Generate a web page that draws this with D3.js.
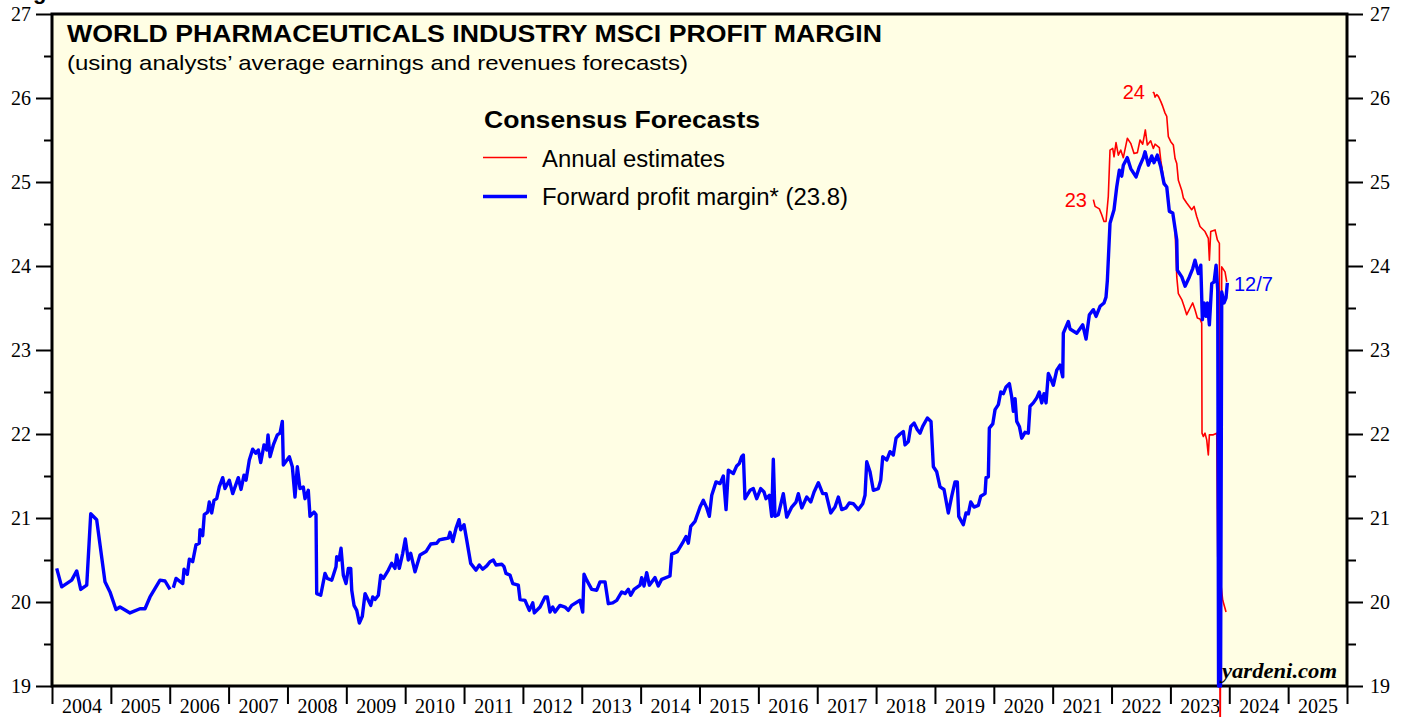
<!DOCTYPE html>
<html><head><meta charset="utf-8">
<script src="https://cdn.jsdelivr.net/npm/d3@7"></script>
<style>body{margin:0;background:#fff}svg{display:block}</style>
</head><body>
<script>
// ---------- DATA ----------
const yTicks = [19, 20, 21, 22, 23, 24, 25, 26, 27];
const yMinorTicks = [19.5, 20.5, 21.5, 22.5, 23.5, 24.5, 25.5, 26.5];
const yearBounds = [2004,2005,2006,2007,2008,2009,2010,2011,2012,2013,2014,2015,2016,2017,2018,2019,2020,2021,2022,2023,2024,2025,2026];
const yearLabels = ["2004","2005","2006","2007","2008","2009","2010","2011","2012","2013","2014","2015","2016","2017","2018","2019","2020","2021","2022","2023","2024","2025"];

// Forward profit margin (blue); null marks a gap in the series
const fwdDates = [2004.080,2004.165,2004.335,2004.420,2004.488,2004.590,2004.658,2004.759,2004.900,2004.985,2005.087,2005.155,2005.325,2005.495,2005.580,2005.665,2005.835,2005.920,2006.005,2006.033,
2006.061,2006.107,2006.221,2006.243,2006.299,2006.333,2006.390,2006.446,2006.502,2006.514,2006.560,2006.587,2006.645,2006.672,2006.713,2006.752,2006.798,2006.842,2006.900,2006.939,
2007.012,2007.070,2007.165,2007.211,2007.262,2007.296,2007.352,2007.410,2007.461,2007.505,2007.546,2007.602,2007.648,2007.670,2007.704,2007.760,2007.828,2007.874,2007.913,2007.930,
2008.032,2008.083,2008.128,2008.168,2008.213,2008.269,2008.298,2008.354,2008.383,2008.451,2008.485,2008.497,2008.565,2008.638,2008.677,2008.752,2008.825,2008.837,2008.876,2008.910,2008.949,2008.995,
2009.034,2009.075,2009.092,2009.131,2009.177,2009.221,2009.272,2009.318,2009.374,2009.415,2009.449,2009.488,2009.544,2009.584,2009.629,2009.714,2009.771,2009.827,2009.856,2009.900,2009.958,
2010.002,2010.053,2010.094,2010.167,2010.252,2010.354,2010.434,2010.536,2010.580,2010.648,2010.733,2010.762,2010.808,2010.864,2010.915,2010.943,
2011.000,2011.045,2011.113,2011.203,2011.259,2011.317,2011.385,2011.441,2011.497,2011.543,2011.640,2011.679,2011.713,2011.781,2011.827,2011.922,2011.951,
2012.036,2012.109,2012.167,2012.194,2012.291,2012.376,2012.415,2012.461,2012.506,2012.546,2012.630,2012.715,2012.771,2012.829,2012.970,
2013.016,2013.038,2013.084,2013.169,2013.254,2013.310,2013.395,2013.451,2013.526,2013.594,2013.679,2013.735,2013.791,2013.832,2013.888,2013.990,
2014.018,2014.058,2014.103,2014.148,2014.244,2014.300,2014.358,2014.499,2014.528,2014.623,2014.725,2014.771,2014.810,2014.851,2014.924,
2015.009,2015.065,2015.123,2015.167,2015.208,2015.281,2015.349,2015.405,2015.451,2015.490,2015.575,2015.632,2015.677,2015.717,2015.745,2015.773,2015.858,2015.914,2015.972,
2016.040,2016.096,2016.130,2016.186,2016.227,2016.254,2016.283,2016.339,2016.424,2016.482,2016.567,2016.640,2016.679,2016.737,2016.822,2016.890,2016.946,
2017.019,2017.093,2017.150,2017.229,2017.302,2017.359,2017.416,2017.489,2017.545,2017.613,2017.698,2017.773,2017.812,2017.841,2017.897,2017.953,
2018.038,2018.079,2018.113,2018.181,2018.237,2018.293,2018.339,2018.407,2018.463,2018.492,2018.548,2018.589,2018.645,2018.701,2018.747,2018.792,2018.871,2018.933,2018.973,
2019.030,2019.086,2019.154,2019.227,2019.285,2019.341,2019.380,2019.404,2019.482,2019.528,2019.567,2019.608,2019.664,2019.737,2019.778,2019.851,2019.868,2019.907,2019.924,2019.982,
2020.021,2020.077,2020.118,2020.162,2020.208,2020.264,2020.304,2020.332,2020.361,2020.389,2020.434,2020.474,2020.530,2020.586,2020.615,2020.671,2020.729,2020.773,2020.814,2020.853,2020.887,2020.926,2020.967,
2021.011,2021.069,2021.125,2021.171,2021.181,2021.266,2021.295,2021.409,2021.511,2021.567,2021.623,2021.691,2021.737,2021.805,2021.872,2021.906,2021.929,2021.974,
2022.042,2022.088,2022.132,2022.173,2022.200,2022.268,2022.326,2022.416,2022.472,2022.540,2022.569,2022.625,2022.683,2022.722,2022.778,2022.836,2022.892,2022.938,2022.982,
2023.040,2023.108,2023.118,2023.193,2023.249,2023.322,2023.379,2023.418,2023.475,2023.516,2023.543,2023.572,2023.606,2023.628,2023.662,2023.702,2023.742,2023.776,2023.804,2023.818,2023.852,2023.872,2023.911,2023.945,2023.967];
const fwdValues = [20.40,20.18,20.26,20.37,20.15,20.20,21.05,20.98,20.24,20.12,19.91,19.94,19.87,19.92,19.92,20.06,20.26,20.25,20.15,null,
20.17,20.28,20.22,20.39,20.33,20.51,20.48,20.68,20.70,20.86,20.79,21.04,21.07,21.19,21.06,21.21,21.23,21.37,21.48,21.35,
21.45,21.29,21.48,21.34,21.51,21.45,21.69,21.82,21.77,21.81,21.66,21.87,21.81,21.99,21.73,21.87,21.99,22.01,22.15,21.63,
21.73,21.61,21.25,21.61,21.35,21.37,21.23,21.33,21.02,21.07,21.04,20.10,20.08,20.34,20.28,20.26,20.42,20.54,20.50,20.64,20.32,20.22,
20.40,20.40,20.14,19.96,19.90,19.75,19.83,20.10,20.02,19.96,20.06,20.03,20.08,20.32,20.28,20.38,20.46,20.40,20.56,20.40,20.58,
20.75,20.50,20.58,20.36,20.56,20.60,20.69,20.70,20.74,20.75,20.76,20.83,20.72,20.88,20.98,20.86,
20.92,20.74,20.46,20.38,20.44,20.39,20.43,20.48,20.50,20.44,20.45,20.42,20.34,20.32,20.22,20.20,20.03,
20.02,19.90,19.99,19.87,19.94,20.06,20.06,19.88,19.94,19.88,19.96,19.94,19.90,19.96,20.02,
19.88,20.33,20.26,20.15,20.14,20.24,20.24,19.98,19.99,20.02,20.12,20.10,20.15,20.08,20.15,20.20,
20.29,20.19,20.35,20.20,20.29,20.19,20.27,20.31,20.57,20.60,20.72,20.78,20.70,20.90,20.96,
21.13,21.21,21.12,21.02,21.27,21.43,21.41,21.50,21.10,21.57,21.53,21.62,21.65,21.73,21.75,21.23,21.33,21.35,21.23,
21.35,21.31,21.23,21.27,21.02,21.70,21.02,21.04,21.29,21.01,21.13,21.19,21.29,21.12,21.25,21.19,21.31,
21.42,21.29,21.29,21.06,21.13,21.25,21.10,21.12,21.18,21.17,21.10,21.17,21.27,21.67,21.55,21.33,
21.35,21.45,21.73,21.69,21.79,21.75,21.95,22.00,22.03,21.87,21.91,22.09,22.13,22.05,22.01,22.09,22.19,22.15,21.61,
21.55,21.37,21.34,21.06,21.26,21.43,21.43,21.02,20.92,21.06,21.05,21.19,21.13,21.15,21.26,21.29,21.48,21.49,22.07,22.12,
22.29,22.35,22.50,22.48,22.56,22.60,22.44,22.27,22.42,22.15,22.09,21.95,22.02,22.01,22.33,22.37,22.43,22.50,22.37,22.48,22.37,22.72,22.66,
22.58,22.76,22.82,22.68,23.20,23.34,23.25,23.20,23.30,23.13,23.42,23.48,23.40,23.52,23.56,23.63,23.83,24.51,
24.67,24.94,25.14,25.07,25.20,25.29,25.16,25.06,25.18,25.29,25.36,25.20,25.31,25.23,25.32,25.18,24.98,24.94,24.65,
24.63,24.31,23.95,23.87,23.76,23.87,23.97,24.07,23.91,24.01,23.36,23.56,23.40,23.56,23.30,23.79,23.81,24.01,23.71,19.00,19.00,23.69,23.56,23.62,23.80];

// Annual estimate for 2023 (red)
const est2023Dates = [2021.691,2021.720,2021.793,2021.833,2021.872,2021.906,2021.945,2021.974,2022.020,2022.042,2022.076,2022.115,2022.156,2022.200,2022.268,2022.326,2022.382,2022.439,2022.484,2022.530,2022.574,2022.608,2022.665,2022.710,2022.739,2022.812,2022.836,2022.892,2022.938,2022.982,
2023.040,2023.079,2023.108,2023.135,2023.193,2023.232,2023.277,2023.334,2023.379,2023.418,2023.458,2023.503,2023.532,2023.537,2023.559,2023.588,2023.617,2023.644,2023.662,2023.729,2023.787,2023.804,2023.889,2023.945];
const est2023Values = [24.79,24.71,24.68,24.61,24.53,24.53,24.83,25.38,25.40,25.30,25.47,25.32,25.38,25.29,25.52,25.46,25.34,25.35,25.50,25.45,25.62,25.44,25.49,25.40,25.45,25.41,25.26,25.00,24.94,24.67,
24.63,24.43,23.87,23.67,23.60,23.52,23.42,23.50,23.56,23.48,23.38,23.37,23.32,22.01,21.97,22.01,21.93,21.75,21.99,21.99,22.01,20.54,20.02,19.88];

// Annual estimate for 2024 (red)
const est2024Dates = [2022.700,2022.722,2022.739,2022.768,2022.796,2022.836,2022.870,2022.909,2022.938,2022.965,2023.006,2023.050,2023.079,2023.108,2023.135,2023.193,2023.220,2023.277,2023.362,2023.402,2023.447,2023.503,2023.588,2023.644,2023.662,2023.685,2023.759,2023.798,2023.832,2023.844,2023.872,2023.928,2023.957];
const est2024Values = [26.07,26.06,26.01,26.04,26.02,25.96,25.90,25.82,25.78,25.54,25.48,25.44,25.28,25.22,25.02,24.90,24.81,24.75,24.67,24.71,24.59,24.47,24.41,24.33,24.07,24.41,24.43,24.31,24.27,17.80,23.99,23.93,23.81];

// ---------- CHART ----------
const W = 1407, H = 717;
const svg = d3.select("body").append("svg").attr("width", W).attr("height", H);
const x = d3.scaleLinear().domain([2004, 2026]).range([52, 1347]);
const y = d3.scaleLinear().domain([19, 27]).range([686, 14]);
const serif = "'Liberation Serif','Times New Roman',serif";
const sans = "'Liberation Sans',Arial,Helvetica,sans-serif";

// heading above the chart, cut off by the top edge as in the reference
svg.append("text").attr("x", 13.5).attr("y", -1.3)
  .attr("font-family", sans).attr("font-weight", "bold").attr("font-size", 22).text("Figure");

// plot background
svg.append("rect").attr("x", x(2004)).attr("y", y(27))
  .attr("width", x(2026) - x(2004)).attr("height", y(19) - y(27))
  .attr("fill", "#fffee4");

function styleAxis(g, size) {
  g.select(".domain").remove();
  g.selectAll(".tick line").attr("stroke", "#000").attr("stroke-width", 2);
  g.selectAll("text").attr("font-family", serif).attr("font-size", size).attr("fill", "#000");
}

// left axis
svg.append("g").attr("transform", `translate(${x(2004)},0)`)
  .call(d3.axisLeft(y).tickValues(yTicks).tickSize(16).tickPadding(5).tickFormat(d3.format("d")))
  .call(g => styleAxis(g, 20));
svg.append("g").attr("transform", `translate(${x(2004)},0)`)
  .call(d3.axisLeft(y).tickValues(yMinorTicks).tickSize(8).tickFormat(""))
  .call(g => styleAxis(g, 20));
// right axis
svg.append("g").attr("transform", `translate(${x(2026)},0)`)
  .call(d3.axisRight(y).tickValues(yTicks).tickSize(16).tickPadding(7).tickFormat(d3.format("d")))
  .call(g => styleAxis(g, 20));
svg.append("g").attr("transform", `translate(${x(2026)},0)`)
  .call(d3.axisRight(y).tickValues(yMinorTicks).tickSize(9).tickFormat(""))
  .call(g => styleAxis(g, 20));
// bottom axis: year boundaries + centred labels
svg.append("g").attr("transform", `translate(0,${y(19)})`)
  .call(d3.axisBottom(x).tickValues(yearBounds).tickSize(18).tickFormat(""))
  .call(g => styleAxis(g, 20));
svg.append("g").attr("transform", `translate(0,${y(19)})`)
  .call(d3.axisBottom(x).tickValues(yearBounds.slice(0, -1).map(d => d + 0.5)).tickSize(0).tickPadding(13)
    .tickFormat((d, i) => yearLabels[i]))
  .call(g => styleAxis(g, 20));

// frame
svg.append("rect").attr("x", x(2004)).attr("y", y(27))
  .attr("width", x(2026) - x(2004)).attr("height", y(19) - y(27))
  .attr("fill", "none").attr("stroke", "#000").attr("stroke-width", 3);

// lines
function series(dates, values) { return dates.map((d, i) => [d, values[i]]); }
const line = d3.line().defined(d => d[1] !== null).x(d => x(d[0])).y(d => y(d[1]));

svg.append("path").datum(series(est2023Dates, est2023Values)).attr("d", line)
  .attr("fill", "none").attr("stroke", "#ff0000").attr("stroke-width", 1.6).attr("stroke-linejoin", "round");
svg.append("path").datum(series(est2024Dates, est2024Values)).attr("d", line)
  .attr("fill", "none").attr("stroke", "#ff0000").attr("stroke-width", 1.6).attr("stroke-linejoin", "round");
svg.append("path").datum(series(fwdDates, fwdValues)).attr("d", line)
  .attr("fill", "none").attr("stroke", "#0000ff").attr("stroke-width", 3.4).attr("stroke-linejoin", "round");

// titles
svg.append("text").attr("x", 67).attr("y", 42).attr("font-family", sans).attr("font-weight", "bold")
  .attr("font-size", 24).attr("textLength", 815).attr("lengthAdjust", "spacingAndGlyphs")
  .text("WORLD PHARMACEUTICALS INDUSTRY MSCI PROFIT MARGIN");
svg.append("text").attr("x", 67).attr("y", 70).attr("font-family", sans)
  .attr("font-size", 21).attr("textLength", 621).attr("lengthAdjust", "spacingAndGlyphs")
  .text("(using analysts\u2019 average earnings and revenues forecasts)");

// legend
svg.append("text").attr("x", 484).attr("y", 128).attr("font-family", sans).attr("font-weight", "bold")
  .attr("font-size", 23).attr("textLength", 276).attr("lengthAdjust", "spacingAndGlyphs").text("Consensus Forecasts");
svg.append("line").attr("x1", 483).attr("x2", 527).attr("y1", 157.5).attr("y2", 157.5)
  .attr("stroke", "#ff0000").attr("stroke-width", 1.6);
svg.append("text").attr("x", 542).attr("y", 166.5).attr("font-family", sans)
  .attr("font-size", 23).attr("textLength", 183).attr("lengthAdjust", "spacingAndGlyphs").text("Annual estimates");
svg.append("line").attr("x1", 483).attr("x2", 527).attr("y1", 196.5).attr("y2", 196.5)
  .attr("stroke", "#0000ff").attr("stroke-width", 3.4);
svg.append("text").attr("x", 542).attr("y", 205).attr("font-family", sans)
  .attr("font-size", 23).attr("textLength", 306).attr("lengthAdjust", "spacingAndGlyphs").text("Forward profit margin* (23.8)");

// series annotations
svg.append("text").attr("x", 1087).attr("y", 207).attr("text-anchor", "end").attr("font-family", sans)
  .attr("font-size", 20).attr("fill", "#ff0000").text("23");
svg.append("text").attr("x", 1145).attr("y", 98.5).attr("text-anchor", "end").attr("font-family", sans)
  .attr("font-size", 20).attr("fill", "#ff0000").text("24");
svg.append("text").attr("x", 1234).attr("y", 291).attr("font-family", sans)
  .attr("font-size", 20).attr("fill", "#0000ff").text("12/7");

// source
svg.append("text").attr("x", 1337).attr("y", 678).attr("text-anchor", "end").attr("font-family", serif)
  .attr("font-weight", "bold").attr("font-style", "italic").attr("font-size", 21)
  .attr("textLength", 115).attr("lengthAdjust", "spacingAndGlyphs").text("yardeni.com");
</script>
</body></html>
